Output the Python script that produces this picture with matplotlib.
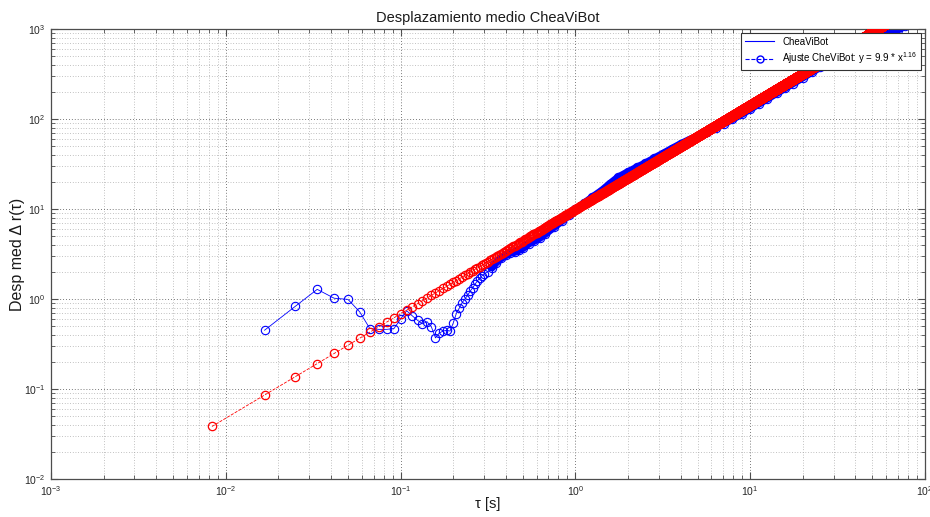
import numpy as np
import matplotlib
matplotlib.use("Agg")
import matplotlib.pyplot as plt
from matplotlib.lines import Line2D
from matplotlib.ticker import LogLocator

plt.rcParams["font.family"] = ["Liberation Sans", "DejaVu Sans"]
plt.rcParams["mathtext.fontset"] = "custom"
plt.rcParams["mathtext.rm"] = "Liberation Sans"
plt.rcParams["mathtext.it"] = "Liberation Sans:italic"
plt.rcParams["mathtext.bf"] = "Liberation Sans:bold"

# Sampling and power-law fit parameters
FRAME_RATE = 120.0          # frames per second
fit_coef = 9.9              # y = fit_coef * tau ** fit_exp
fit_exp = 1.16
n_lags = 12000              # number of lags the fit is evaluated on

# Measured mean displacement (lag in frames, displacement)
blue_frames = [2, 3, 4, 5, 6, 7, 8, 9, 10, 11, 12, 13, 14, 15, 16, 17, 18, 19,
               20, 21, 22, 23, 24, 25, 26, 27, 28, 29, 30, 31, 32, 33, 34, 35,
               36, 38, 40, 42, 45, 48, 51, 54, 57, 60, 65, 70, 75, 80, 90, 100,
               110, 120, 135, 150, 170, 190, 210, 240, 270, 300, 340, 380, 430,
               480, 540, 600, 680, 760, 850, 950, 1080, 1200, 1350, 1500, 1700,
               1900, 2100, 2400, 2700, 3000, 3400, 3800, 4300, 4800, 5400, 6000,
               6800, 7600, 8400, 9200]
blue_disp = [0.45, 0.83, 1.28, 1.02, 0.99, 0.72, 0.47, 0.46, 0.46, 0.47, 0.60,
             0.74, 0.65, 0.58, 0.53, 0.56, 0.49, 0.37, 0.42, 0.44, 0.45, 0.44,
             0.54, 0.69, 0.79, 0.91, 1.00, 1.10, 1.22, 1.33, 1.46, 1.59, 1.71,
             1.81, 1.90, 2.02, 2.23, 2.51, 2.83, 3.05, 3.27, 3.32, 3.49, 3.66,
             4.12, 4.43, 4.75, 5.22, 6.24, 7.32, 8.50, 9.90, 11.6, 13.5, 16.0,
             19.2, 22.4, 25.8, 29.0, 32.1, 36.7, 41.2, 47.0, 52.7, 58.9, 64.0,
             72.2, 80.0, 88.8, 99.7, 114.3, 129.2, 148.1, 167.3, 193.5, 220.1,
             247.3, 288.7, 330.9, 373.9, 432.3, 491.8, 553.4, 612.9, 667.5,
             716.6, 807.6, 895.6, 980.0, 1076.0]
dense_from_frame = 40       # beyond this lag the samples merge into a solid band

title = "Desplazamiento medio CheaViBot"
xlabel = "\u03c4 [s]"
ylabel = "Desp med \u0394 r(\u03c4)"
legend_labels = ["CheaViBot", r"Ajuste CheViBot: y = 9.9 * x$^{1.16}$"]

BLUE = "#0000ff"
RED = "#ff0000"

tau_blue = np.array(blue_frames) / FRAME_RATE
disp_blue = np.array(blue_disp)
tau_fit = np.arange(1, n_lags + 1) / FRAME_RATE
disp_fit = fit_coef * tau_fit ** fit_exp

fig = plt.figure(figsize=(9.3, 5.17), dpi=100)
ax = fig.add_axes([51 / 930, 1 - 479 / 517, 874 / 930, 450 / 517])
ax.set_xscale("log")
ax.set_yscale("log")
ax.set_xlim(1e-3, 1e2)
ax.set_ylim(1e-2, 1e3)
ax.set_axisbelow(True)

# measured curve
ax.plot(tau_blue, disp_blue, "-", color=BLUE, lw=0.6, marker="o", ms=6,
        mfc="none", mec=BLUE, mew=0.8, zorder=2)
dense = np.array(blue_frames) >= dense_from_frame
ax.plot(tau_blue[dense], disp_blue[dense], "-", color=BLUE, lw=5.5,
        solid_capstyle="round", zorder=2)

# power-law fit
ax.plot(tau_fit, disp_fit, "--", color=RED, lw=0.6, marker="o", ms=6,
        mfc="none", mec=RED, mew=0.9, zorder=3)

ax.xaxis.set_major_locator(LogLocator(base=10, numticks=10))
ax.yaxis.set_major_locator(LogLocator(base=10, numticks=10))
ax.xaxis.set_minor_locator(LogLocator(base=10, subs=np.arange(2, 10), numticks=20))
ax.yaxis.set_minor_locator(LogLocator(base=10, subs=np.arange(2, 10), numticks=20))

ax.grid(True, which="major", linestyle=(0, (1, 2.5)), color="0.3", lw=0.6)
ax.grid(True, which="minor", linestyle=(0, (1, 2.5)), color="0.62", lw=0.55)

ax.tick_params(which="both", direction="in", top=True, right=True,
               colors="0.3", labelcolor="0.15", labelsize=7.5, pad=4)
ax.tick_params(which="major", length=5, width=0.8)
ax.tick_params(which="minor", length=3, width=0.6)
for sp in ax.spines.values():
    sp.set_color("0.3")
    sp.set_linewidth(0.9)

ax.set_title(title, fontsize=10.5, pad=5, color="0.1")
ax.set_xlabel(xlabel, fontsize=10.5, labelpad=-1, color="0.1")
ax.set_ylabel(ylabel, fontsize=11.5, labelpad=-1, color="0.1")

handles = [
    Line2D([], [], color=BLUE, lw=0.8),
    Line2D([], [], color=BLUE, lw=0.8, ls="--", marker="o", ms=5,
           mfc="none", mec=BLUE),
]
leg = ax.legend(handles, legend_labels, loc="upper right", fontsize=7,
                handlelength=3.0, fancybox=False, framealpha=1.0,
                edgecolor="0.2", borderaxespad=0.4, borderpad=0.4,
                labelspacing=0.4)
leg.get_frame().set_linewidth(0.8)
leg.set_zorder(10)

fig.savefig("out.png", dpi=100, facecolor="white")
